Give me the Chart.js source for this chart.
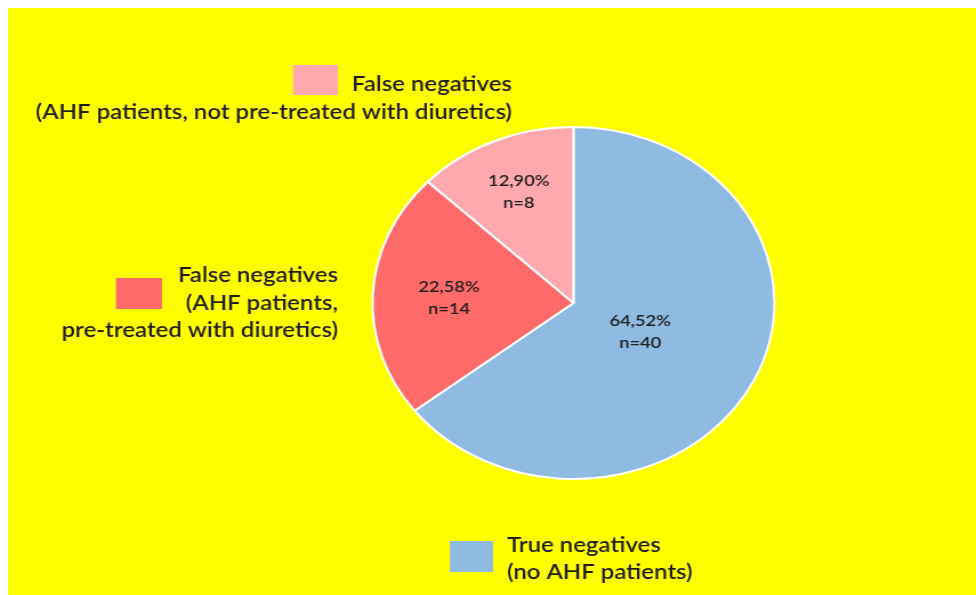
<!DOCTYPE html>
<html>
<head>
<meta charset="utf-8">
<script src="https://cdn.jsdelivr.net/npm/chart.js@4/dist/chart.umd.min.js"></script>
<style>
  html, body { margin: 0; padding: 0; background: #ffffff; }
  #chart {
    position: absolute;
    left: 8px;
    top: 8px;
    background: #ffff00;
  }
</style>
</head>
<body>
<!-- Rendered on a narrower canvas and widened by CSS, which gives the pie its oval shape -->
<canvas id="chart" width="848" height="587" style="width:968px;height:587px"></canvas>
<script>
// Patient groups, in drawing order (clockwise from 12 o'clock)
const categories = [
  'True negatives (no AHF patients)',
  'False negatives (AHF patients, pre-treated with diuretics)',
  'False negatives (AHF patients, not pre-treated with diuretics)'
];
const patientCounts = [40, 14, 8];
const percentLabels = ['64,52%', '22,58%', '12,90%'];
const legendLines = [
  ['True negatives', '(no AHF patients)'],
  ['False negatives', '(AHF patients,', 'pre-treated with diuretics)'],
  ['False negatives', '(AHF patients, not pre-treated with diuretics)']
];

const sliceColors = ['#8fbae1', '#ff6a6a', '#ffa9ae'];
const textColor = '#1e1e1e';
const FONT = 'Lato, "Open Sans", sans-serif';

// horizontal stretch applied by CSS (display width / canvas width)
const SX = 968 / 848;
const toX = (pageX) => (pageX - 8) / SX;
const toY = (pageY) => pageY - 8;

// Placement of the three legend entries, in page pixels
const legendPlacement = [
  { box: [450, 541, 493, 572], align: 'left',  textX: 507, lineY: [545, 572] },
  { box: [116, 278, 162, 309], align: 'right', textX: 338, lineY: [275, 303, 330] },
  { box: [293, 65, 338, 95],   align: 'right', textX: 512, lineY: [84, 112] }
];

// radial position of the value labels, as a fraction of the radius
const labelRadius = [0.37, 0.62, 0.69];

const sliceLabels = {
  id: 'sliceLabels',
  afterDatasetsDraw(chart) {
    const ctx = chart.ctx;
    const meta = chart.getDatasetMeta(0);
    ctx.save();
    ctx.fillStyle = textColor;
    ctx.font = '600 16px ' + FONT;
    ctx.textAlign = 'center';
    ctx.textBaseline = 'middle';
    meta.data.forEach((arc, i) => {
      const mid = (arc.startAngle + arc.endAngle) / 2;
      const r = arc.outerRadius * labelRadius[i];
      const x = arc.x + Math.cos(mid) * r;
      const y = arc.y + Math.sin(mid) * r;
      ctx.fillText(percentLabels[i], x, y - 11);
      ctx.fillText('n=' + patientCounts[i], x, y + 11);
    });
    ctx.restore();
  }
};

const placedLegend = {
  id: 'placedLegend',
  afterDraw(chart) {
    const ctx = chart.ctx;
    ctx.save();
    ctx.font = '600 21px ' + FONT;
    ctx.textBaseline = 'middle';
    legendPlacement.forEach((p, i) => {
      const [x0, y0, x1, y1] = p.box;
      ctx.fillStyle = sliceColors[i];
      ctx.fillRect(toX(x0), toY(y0), toX(x1) - toX(x0), y1 - y0);
      ctx.fillStyle = textColor;
      ctx.textAlign = p.align;
      legendLines[i].forEach((line, j) => {
        ctx.fillText(line, toX(p.textX), toY(p.lineY[j]));
      });
    });
    ctx.restore();
  }
};

new Chart(document.getElementById('chart'), {
  type: 'pie',
  data: {
    labels: categories,
    datasets: [{
      data: patientCounts,
      backgroundColor: sliceColors,
      borderColor: '#ffffff',
      borderWidth: 2
    }]
  },
  options: {
    responsive: false,
    animation: false,
    layout: { padding: { left: 318.4, right: 175.6, top: 118, bottom: 115 } },
    plugins: {
      legend: { display: false },
      tooltip: { enabled: false }
    }
  },
  plugins: [sliceLabels, placedLegend]
});
</script>
</body>
</html>
